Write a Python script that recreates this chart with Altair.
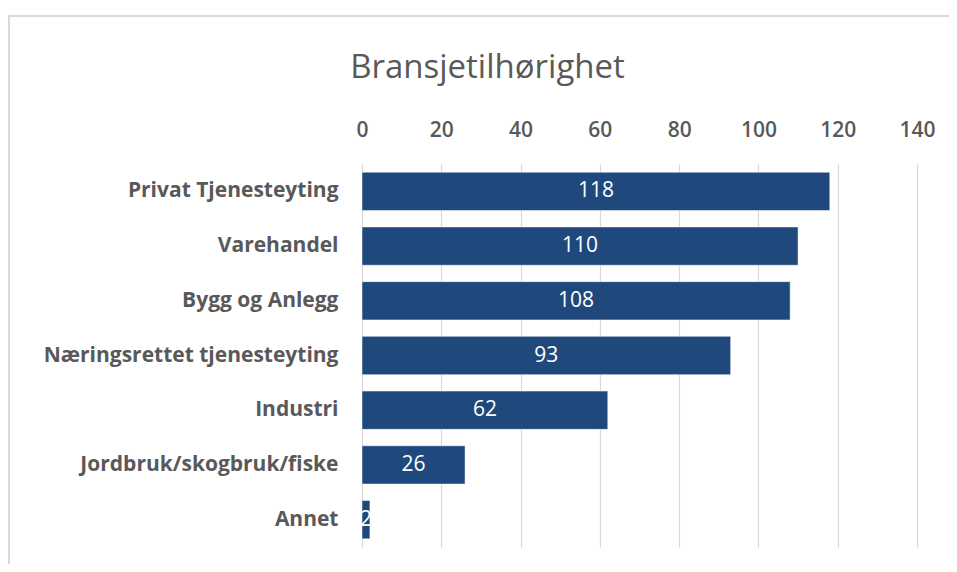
import altair as alt
import pandas as pd

categories = [
    "Privat Tjenesteyting",
    "Varehandel",
    "Bygg og Anlegg",
    "Næringsrettet tjenesteyting",
    "Industri",
    "Jordbruk/skogbruk/fiske",
    "Annet",
]
values = [118, 110, 108, 93, 62, 26, 2]
x_ticks = [0, 20, 40, 60, 80, 100, 120, 140]

df = pd.DataFrame({"kategori": categories, "antall": values})
df["mid"] = df["antall"] / 2

FONT = "Open Sans"
GREY = "#595959"
BAR = "#1F497D"

y_enc = alt.Y(
    "kategori:N",
    sort=categories,
    title=None,
    scale=alt.Scale(paddingInner=0.3, paddingOuter=0.15),
    axis=alt.Axis(
        domain=False,
        ticks=False,
        grid=False,
        labelPadding=24,
        labelFont=FONT,
        labelFontSize=21,
        labelFontWeight="bold",
        labelColor=GREY,
        labelLimit=400,
    ),
)

base = alt.Chart(df)

bars = base.mark_bar(color=BAR, stroke="#FFFFFF", strokeWidth=0.5).encode(
    x=alt.X(
        "antall:Q",
        title=None,
        scale=alt.Scale(domain=[0, 140], nice=False),
        axis=alt.Axis(
            orient="top",
            values=x_ticks,
            domain=False,
            ticks=False,
            grid=True,
            gridColor="#D9D9D9",
            gridWidth=1.2,
            labelFlush=False,
            labelPadding=24,
            labelFont=FONT,
            labelFontSize=21,
            labelColor=GREY,
            labelFontWeight=600,
        ),
    ),
    y=y_enc,
)

labels = base.mark_text(
    color="white", font=FONT, fontSize=21, align="center", baseline="middle"
).encode(
    x=alt.X("mid:Q", title=None),
    y=alt.Y("kategori:N", sort=categories, title=None),
    text=alt.Text("antall:Q"),
)

frame = alt.Chart(alt.Data(values=[{"a": 1}])).mark_rect(
    fill=None, stroke="#D9D9D9", strokeWidth=2
).encode(
    x=alt.value(-353),
    x2=alt.value(700),
    y=alt.value(-148),
    y2=alt.value(500),
)

chart = (
    alt.layer(frame, bars, labels)
    .properties(
        width=555,
        height=383,
        background="white",
        padding={"left": 354, "top": 156, "right": 32, "bottom": 17},
        autosize=alt.AutoSizeParams(type="none"),
        title=alt.TitleParams(
            "Bransjetilhørighet",
            font=FONT,
            fontSize=33,
            fontWeight="normal",
            color=GREY,
            anchor="middle",
            dx=-152,
            offset=-70,
        ),
    )
    .configure_view(strokeWidth=0, stroke="transparent")
)

chart.save("out.html", embed_options={"renderer": "svg", "actions": False})
